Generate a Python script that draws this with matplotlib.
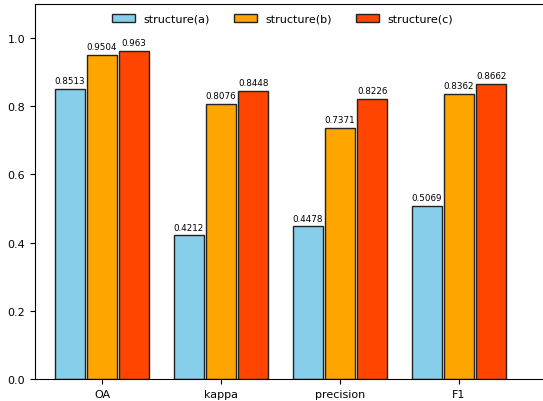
"""Grouped bar chart comparing three structures on four metrics."""

import matplotlib

matplotlib.use("Agg")
import matplotlib.pyplot as plt
import numpy as np

metrics = ["OA", "kappa", "precision", "F1"]
series_names = ["structure(a)", "structure(b)", "structure(c)"]
structure_a = [0.8513, 0.4212, 0.4478, 0.5069]
structure_b = [0.9504, 0.8076, 0.7371, 0.8362]
structure_c = [0.963, 0.8448, 0.8226, 0.8662]
colors = ["#87CEEB", "#FFA500", "#FF4500"]


def main() -> None:
    fig = plt.figure(figsize=(5.43, 4.02), dpi=100)
    # axes runs past the right edge, like the cropped original
    ax = fig.add_axes([35 / 543, 22 / 402, 525 / 543, 375 / 402])

    x = np.arange(len(metrics))
    step = 0.27
    width = 0.25
    all_values = [structure_a, structure_b, structure_c]
    for i, (name, vals, col) in enumerate(zip(series_names, all_values, colors)):
        pos = x + (i - 1) * step
        ax.bar(pos, vals, width, color=col, edgecolor="#222222", linewidth=1.0,
               label=name)
        for px, v in zip(pos, vals):
            ax.text(px, v + 0.011, f"{v:g}", ha="center", va="bottom", fontsize=6.3)

    ax.set_xlim(-0.563, -0.563 + 525 / 119)
    ax.set_ylim(0, 1.1)
    ax.set_xticks(x)
    ax.set_xticklabels(metrics)
    ax.set_yticks([0.0, 0.2, 0.4, 0.6, 0.8, 1.0])
    ax.tick_params(labelsize=8)
    ax.spines["right"].set_visible(False)
    ax.legend(loc="upper center", bbox_to_anchor=(0.472, 1.0), ncol=3,
              frameon=False, fontsize=8, columnspacing=2.2)

    fig.savefig("out.png", dpi=100)
    plt.close(fig)


if __name__ == "__main__":
    main()
